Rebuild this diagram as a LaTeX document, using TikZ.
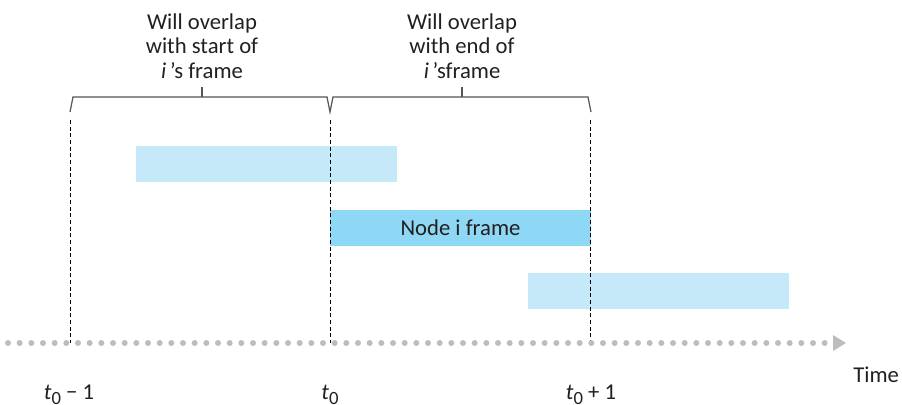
\documentclass[tikz,border=0pt]{standalone}
\usepackage{fontspec}
\setmainfont{Carlito}
\usetikzlibrary{arrows.meta}
\usetikzlibrary{positioning}
\definecolor{lightframe}{HTML}{C6E9F9}
\definecolor{nodeframe}{HTML}{8ED8F6}
\definecolor{axisgray}{HTML}{BDBDBD}
\definecolor{bracegray}{HTML}{555555}
\definecolor{textdark}{HTML}{231F20}
\newcommand{\tsub}[1]{\textit{t}\raisebox{-0.5ex}{\fontsize{14}{14}\selectfont #1}}
\tikzset{framebar/.style={fill=lightframe,draw=none,minimum width=195.75pt,minimum height=27pt,inner sep=0pt},
         nodebar/.style={framebar,fill=nodeframe},
         boundary/.style={densely dashed,line width=0.7pt,black},
         bracket/.style={bracegray,line width=0.9pt},
         heading/.style={align=center,font=\fontsize{17}{18.5}\selectfont,text=textdark,inner sep=0pt},
         timelabel/.style={font=\fontsize{17}{18}\selectfont,text=textdark,anchor=base,inner sep=0pt},
         }
\begin{document}
\begin{tikzpicture}[x=0.75pt,y=-0.75pt]
\useasboundingbox (0,0) rectangle (902,404);
% frame boundaries
\coordinate (b0top) at (70,120);
\coordinate (b1top) at (330,120);
\coordinate (b2top) at (590,120);
\coordinate (b0) at (70,343);
\coordinate (b1) at (330,343);
\coordinate (b2) at (590,343);
% frames
\node[framebar] (early) at (266.5,163.5) {};
\node[nodebar] (nodei) at (460.5,227.5) {\fontsize{17}{18}\selectfont\color{textdark}Node i frame};
\node[framebar] (late) at (658.5,291) {};
\draw[boundary] (b0top) -- (b0);
\draw[boundary] (b1top) -- (b1);
\draw[boundary] (b2top) -- (b2);
% time axis
\coordinate (axisstart) at (8,343);
\coordinate (axisend) at (846,343);
\draw[axisgray,line width=4.5pt,line cap=round,dash pattern=on 0pt off 8.75pt] (axisstart) -- ([xshift=-14pt]axisend);
\fill[axisgray] (axisend) -- ++(-13,-8) -- ++(0,16) -- cycle;
\node[anchor=base west,font=\fontsize{17}{18}\selectfont,text=textdark,inner sep=0pt] (time) at (853,382) {Time};
\node[timelabel] (t0m) at (69,399) {\tsub{0} − 1};
\node[timelabel] (t0) at (330,399) {\tsub{0}};
\node[timelabel] (t0p) at (591,399) {\tsub{0} + 1};
% brackets
\draw[bracket] (70,112) -- (73,97) -- (327,97) -- (330,112) -- (333,97) -- (588,97) -- (591,112);
\draw[bracket] (202,97) -- (202,87);
\draw[bracket] (462,97) -- (462,87);
\node[heading,anchor=north] (startnote) at (202,13) {Will overlap\\with start of\\\textit{i}\,’s frame};
\node[heading,anchor=north] (endnote) at (462,13) {Will overlap\\with end of\\\textit{i}\,’sframe};
\end{tikzpicture}
\end{document}
